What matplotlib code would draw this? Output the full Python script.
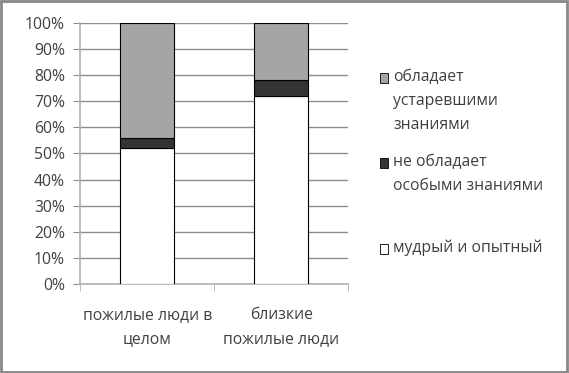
import numpy as np
import matplotlib.pyplot as plt
from matplotlib.patches import Rectangle

plt.rcParams['font.family'] = ['Open Sans', 'DejaVu Sans']

##### categories and shares (%)
categories = ['пожилые люди в\nцелом', 'близкие\nпожилые люди']
wise = [52, 72]          # мудрый и опытный
no_knowledge = [4, 6]    # не обладает особыми знаниями
outdated = [44, 22]      # обладает устаревшими знаниями

labels = ['обладает\nустаревшими\nзнаниями', 'не обладает\nособыми знаниями', 'мудрый и опытный']
colors = ['#a5a5a5', '#333333', 'white']
txt = '#404040'
fs = 11.3

fig = plt.figure(figsize=(5.69, 3.73), dpi=100)
ax = fig.add_axes([0.141, 0.239, 0.471, 0.699])

x = np.arange(len(categories))
bottom2 = np.array(wise) + np.array(no_knowledge)
ax.bar(x, wise, 0.4, color=colors[2], edgecolor='black', linewidth=0.8, zorder=3)
ax.bar(x, no_knowledge, 0.4, bottom=wise, color=colors[1], edgecolor='black', linewidth=0.8, zorder=3)
ax.bar(x, outdated, 0.4, bottom=bottom2, color=colors[0], edgecolor='black', linewidth=0.8, zorder=3)

ax.set_xlim(-0.5, 1.5)
ax.set_ylim(0, 100)
ax.set_yticks(np.arange(0, 101, 10))
ax.set_yticklabels([f'{v}%' for v in range(0, 101, 10)], fontsize=fs, color=txt)
ax.yaxis.grid(True, color='#8c8c8c', linewidth=1, zorder=0)
ax.tick_params(axis='y', length=5, color='#8c8c8c', pad=6)

ax.set_xticks(x)
ax.set_xticklabels(categories, fontsize=fs, color=txt, linespacing=1.6)
ax.set_xticks([-0.5, 0.5, 1.5], minor=True)
ax.tick_params(axis='x', which='major', length=0, pad=17)
ax.tick_params(axis='x', which='minor', length=5, color='#b0b0b0')

for s in ['top', 'right']:
    ax.spines[s].set_visible(False)
for s in ['left', 'bottom']:
    ax.spines[s].set_color('#b0b0b0')
    ax.spines[s].set_linewidth(1.2)

# legend, drawn by hand to match Excel spacing
W, H = 569, 373
leg_y = [78, 163, 249]
for lab, col, yy in zip(labels, colors, leg_y):
    fig.patches.append(Rectangle((380 / W, 1 - (yy + 5) / H), 8 / W, 10 / H,
                                 transform=fig.transFigure, facecolor=col,
                                 edgecolor='black', linewidth=0.6))
    fig.text(393 / W, 1 - (yy - 9) / H, lab, fontsize=fs, color=txt,
             va='top', ha='left', linespacing=1.65)

fig.patches.append(Rectangle((0.002, 0.003), 0.995, 0.994, transform=fig.transFigure,
                             fill=False, edgecolor='#888888', linewidth=2))

fig.savefig('out.png', dpi=100)
